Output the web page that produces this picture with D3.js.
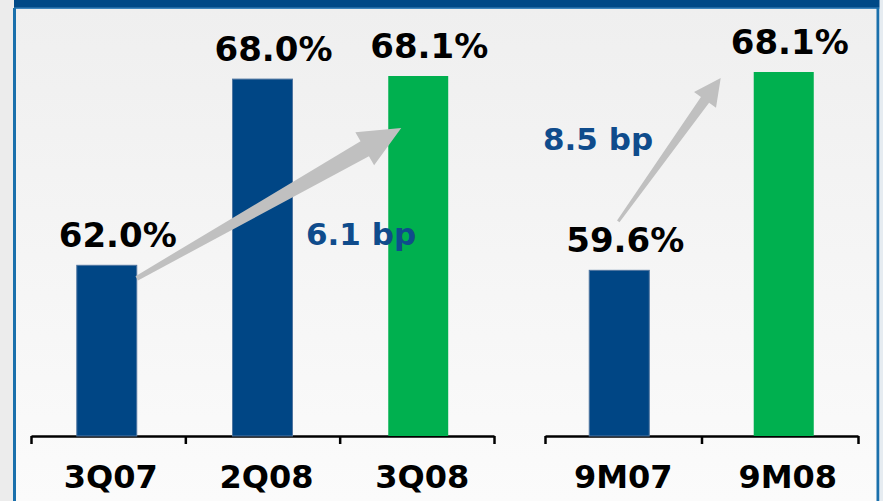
<!DOCTYPE html>
<html>
<head>
<meta charset="utf-8">
<script src="https://cdn.jsdelivr.net/npm/d3@7"></script>
<style>
  html, body { margin: 0; padding: 0; background: #ececec; }
  svg { display: block; }
  text { font-family: "DejaVu Sans", Verdana, sans-serif; font-weight: bold; }
</style>
</head>
<body>
<svg id="chart" width="883" height="501"></svg>
<script>
// Quarterly panel
const quarterCategories = ["3Q07", "2Q08", "3Q08"];
const quarterValues = [62.0, 68.0, 68.1];
const quarterColors = ["#004685", "#004685", "#00b04f"];
const quarterChange = "6.1 bp";

// Nine-month panel
const ytdCategories = ["9M07", "9M08"];
const ytdValues = [59.6, 68.1];
const ytdColors = ["#004685", "#00b04f"];
const ytdChange = "8.5 bp";

const svg = d3.select("#chart");
const W = 883, H = 501;
const baseY = 436;

// background and frame
const defs = svg.append("defs");
const grad = defs.append("linearGradient").attr("id", "bg").attr("x1", 0).attr("y1", 0).attr("x2", 0).attr("y2", 1);
grad.append("stop").attr("offset", "0%").attr("stop-color", "#efefef");
grad.append("stop").attr("offset", "100%").attr("stop-color", "#fbfbfb");

svg.append("rect").attr("width", W).attr("height", H).attr("fill", "#ececec");
svg.append("rect").attr("x", 15).attr("y", 8).attr("width", 862).attr("height", H - 8).attr("fill", "url(#bg)");
svg.append("rect").attr("x", 14).attr("y", 0).attr("width", W - 14).attr("height", 8).attr("fill", "#004987");
svg.append("rect").attr("x", 14).attr("y", 7.5).attr("width", W - 14).attr("height", 1.5).attr("fill", "#3f86bd");
svg.append("rect").attr("x", 13).attr("y", 8).attr("width", 3).attr("height", H - 8).attr("fill", "#1a70ac");
svg.append("rect").attr("x", 876.5).attr("y", 8).attr("width", 3).attr("height", H - 8).attr("fill", "#1a70ac");
svg.append("rect").attr("x", 879.5).attr("y", 0).attr("width", 3.5).attr("height", H).attr("fill", "#e6ecf1");

function panel(cats, vals, colors, x0, x1, padIn, padOut, yDomain, yTop, labelDx) {
  const g = svg.append("g");
  const x = d3.scaleBand().domain(cats).range([x0, x1]).paddingInner(padIn).paddingOuter(padOut);
  const y = d3.scaleLinear().domain(yDomain).range([baseY, yTop]);

  // axis with ticks on the category boundaries
  const edge = d3.scaleLinear().domain([0, cats.length]).range([x0, x1]);
  const axis = d3.axisBottom(edge)
    .tickValues(d3.range(cats.length + 1))
    .tickSize(8).tickSizeOuter(0).tickFormat("");
  const ax = g.append("g").attr("transform", `translate(0,${baseY})`).call(axis);
  ax.select(".domain").attr("stroke", "#000").attr("stroke-width", 2.5);
  ax.selectAll(".tick line").attr("stroke", "#000").attr("stroke-width", 2.5);

  const data = cats.map((c, i) => ({ c, v: vals[i], col: colors[i] }));
  g.selectAll("rect.bar").data(data).join("rect")
    .attr("class", "bar")
    .attr("x", d => x(d.c))
    .attr("y", d => y(d.v))
    .attr("width", x.bandwidth())
    .attr("height", d => baseY - y(d.v))
    .attr("fill", d => d.col)
    .attr("stroke", d => d.col === "#00b04f" ? "none" : "#4f75a0")
    .attr("stroke-width", 1);

  g.selectAll("text.val").data(data).join("text")
    .attr("class", "val")
    .attr("x", d => x(d.c) + x.bandwidth() / 2 + labelDx)
    .attr("y", d => y(d.v) - 18)
    .attr("text-anchor", "middle")
    .attr("font-size", 34)
    .attr("fill", "#000")
    .text(d => d.v.toFixed(1) + "%");

  g.selectAll("text.cat").data(data).join("text")
    .attr("class", "cat")
    .attr("x", d => x(d.c) + x.bandwidth() / 2 + 4)
    .attr("y", 488)
    .attr("text-anchor", "middle")
    .attr("font-size", 32)
    .attr("fill", "#000")
    .text(d => d.c);

  return { x, y, g };
}

// tapered block arrow from tail to tip
function arrow(tail, tip, tailW, shaftW, headW, headL) {
  const dx = tip[0] - tail[0], dy = tip[1] - tail[1];
  const L = Math.hypot(dx, dy);
  const u = [dx / L, dy / L], n = [-u[1], u[0]];
  const at = (d, w) => [tail[0] + u[0] * d + n[0] * w, tail[1] + u[1] * d + n[1] * w];
  const b = L - headL;
  const pts = [
    at(0, tailW / 2), at(b, shaftW / 2), at(b, headW / 2), tip,
    at(b, -headW / 2), at(b, -shaftW / 2), at(0, -tailW / 2)
  ];
  svg.append("path").attr("d", d3.line()(pts) + "Z").attr("fill", "#c0c0c0");
}

const left = panel(quarterCategories, quarterValues, quarterColors, 31, 494, 0.615, 0.294, [56.5, 68.1], 76, 11);
const right = panel(ytdCategories, ytdValues, ytdColors, 545, 858, 0.635, 0.269, [52.5, 68.1], 72, 6);

// change arrows
const lx = left.x, ly = left.y, bw = lx.bandwidth();
arrow([lx("3Q07") + bw, ly(62.0) + 13], [lx("3Q08") + 13, ly(68.1) + 52], 5, 17, 38, 42);
const rx = right.x, ry = right.y, rbw = right.x.bandwidth();
arrow([rx("9M07") + rbw / 2 - 1, ry(59.6) - 49], [rx("9M08") - 33, ry(68.1) + 6], 3, 10, 27, 27);

// change labels
svg.append("text").attr("x", 306).attr("y", 245).attr("font-size", 31).attr("fill", "#0f4c8c").text(quarterChange);
svg.append("text").attr("x", 543).attr("y", 150).attr("font-size", 31).attr("fill", "#0f4c8c").text(ytdChange);
</script>
</body>
</html>
